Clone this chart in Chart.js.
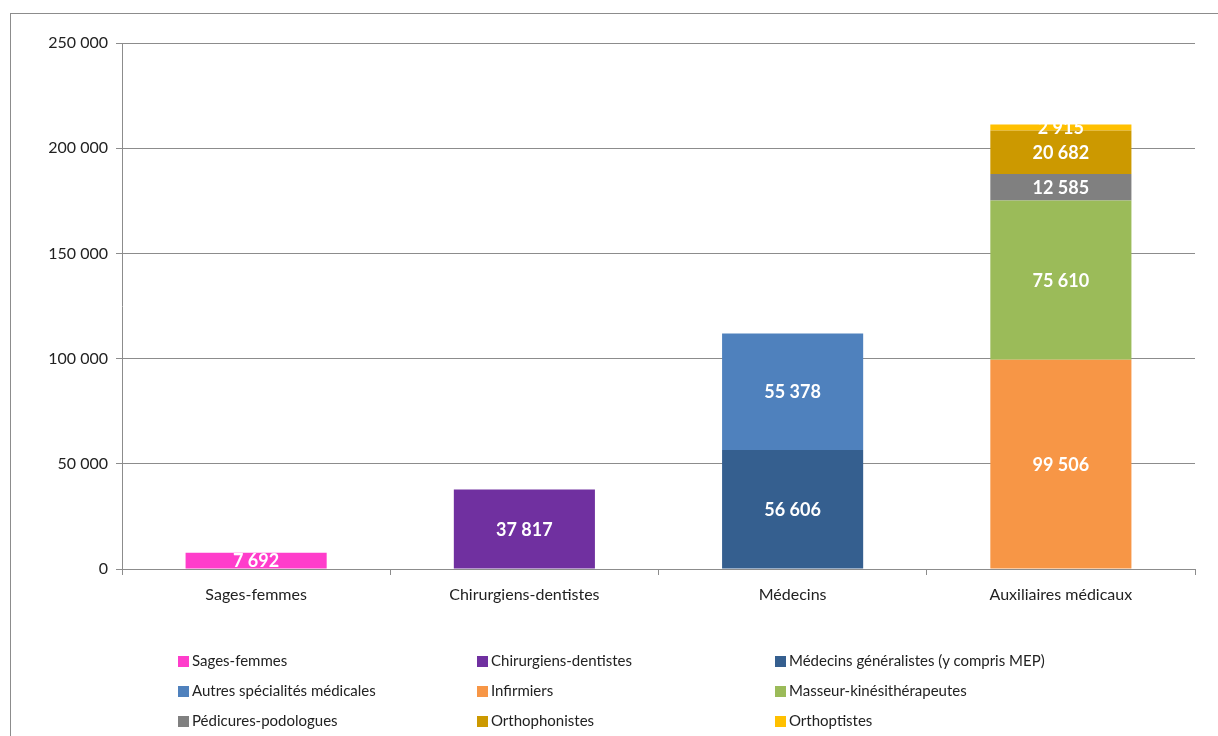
<!DOCTYPE html>
<html lang="fr">
<head>
<meta charset="utf-8">
<script src="https://cdn.jsdelivr.net/npm/chart.js@4"></script>
<style>
  html, body { margin: 0; padding: 0; background: #fff; }
  #wrap { position: relative; width: 1218px; height: 736px; overflow: hidden; }
  #frame { position: absolute; left: 10px; top: 13px; width: 1220px; height: 740px;
           border-left: 1px solid #8c8c8c; border-top: 1px solid #8c8c8c; }
  #bars { position: absolute; left: 0; top: 0; }
  #legend { position: absolute; left: 178px; top: 651px; display: grid;
            grid-template-columns: 299px 298px 300px; row-gap: 12px;
            font-family: Lato, "Open Sans", sans-serif; font-size: 15px; color: #222; }
  #legend span.box { display: inline-block; width: 11px; height: 11px; margin-right: 3px;
                     vertical-align: -1px; }
</style>
</head>
<body>
<div id="wrap">
  <div id="frame"></div>
  <canvas id="bars" width="1218" height="736"></canvas>
  <div id="legend"></div>
</div>
<script>
// effectifs par profession
var categories = ['Sages-femmes', 'Chirurgiens-dentistes', 'Médecins', 'Auxiliaires médicaux'];
var seriesNames = [
  'Sages-femmes', 'Chirurgiens-dentistes', 'Médecins généralistes (y compris MEP)',
  'Autres spécialités médicales', 'Infirmiers', 'Masseur-kinésithérapeutes',
  'Pédicures-podologues', 'Orthophonistes', 'Orthoptistes'
];
var seriesValues = [
  [7692, null, null, null],
  [null, 37817, null, null],
  [null, null, 56606, null],
  [null, null, 55378, null],
  [null, null, null, 99506],
  [null, null, null, 75610],
  [null, null, null, 12585],
  [null, null, null, 20682],
  [null, null, null, 2915]
];
var seriesColors = ['#FF3DCB', '#7030A0', '#355F8F', '#4F81BD', '#F79646', '#9BBB59', '#808080', '#CC9900', '#FFC000'];
var yTicks = [0, 50000, 100000, 150000, 200000, 250000];

function fmt(v) {
  return String(v).replace(/\B(?=(\d{3})+(?!\d))/g, ' ');
}

// white value labels in the middle of each segment
var valueLabels = {
  id: 'valueLabels',
  afterDatasetsDraw: function(chart) {
    var ctx = chart.ctx;
    ctx.save();
    ctx.fillStyle = '#fff';
    ctx.font = 'bold 18px Lato, "Open Sans", sans-serif';
    ctx.textAlign = 'center';
    ctx.textBaseline = 'middle';
    chart.data.datasets.forEach(function(ds, i) {
      chart.getDatasetMeta(i).data.forEach(function(bar, j) {
        if (ds.data[j] == null) return;
        var p = bar.getProps(['x', 'y', 'base'], true);
        ctx.fillText(fmt(ds.data[j]), p.x, (p.y + p.base) / 2 + 1);
      });
    });
    ctx.restore();
  }
};

var datasets = seriesNames.map(function(name, i) {
  return {
    label: name,
    data: seriesValues[i],
    backgroundColor: seriesColors[i],
    borderWidth: 0,
    categoryPercentage: 1,
    barPercentage: 0.526
  };
});

// legend, 3 columns
var legend = document.getElementById('legend');
seriesNames.forEach(function(name, i) {
  var d = document.createElement('div');
  d.innerHTML = '<span class="box" style="background:' + seriesColors[i] + '"></span>' + name;
  legend.appendChild(d);
});

var bars = new Chart(document.getElementById('bars'), {
  type: 'bar',
  data: { labels: categories, datasets: datasets },
  options: {
    responsive: false,
    animation: false,
    layout: { padding: { top: 43, right: 23, left: 0, bottom: 0 } },
    plugins: { legend: { display: false }, tooltip: { enabled: false } },
    scales: {
      x: {
        stacked: true,
        afterFit: function(s) { s.height = 167; },
        grid: { offset: true, drawOnChartArea: false, drawTicks: true, tickLength: 6, color: '#8c8c8c' },
        border: { color: '#8c8c8c' },
        ticks: { color: '#222', padding: 10, font: { family: 'Lato, "Open Sans", sans-serif', size: 16 } }
      },
      y: {
        stacked: true,
        min: 0,
        max: 250000,
        afterFit: function(s) { s.width = 122; },
        afterBuildTicks: function(s) { s.ticks = yTicks.map(function(v) { return { value: v }; }); },
        grid: { color: '#8c8c8c', tickLength: 6 },
        border: { color: '#8c8c8c' },
        ticks: {
          color: '#222', padding: 8,
          font: { family: 'Lato, "Open Sans", sans-serif', size: 16 },
          callback: function(v) { return fmt(v); }
        }
      }
    }
  },
  plugins: [valueLabels]
});
</script>
</body>
</html>
